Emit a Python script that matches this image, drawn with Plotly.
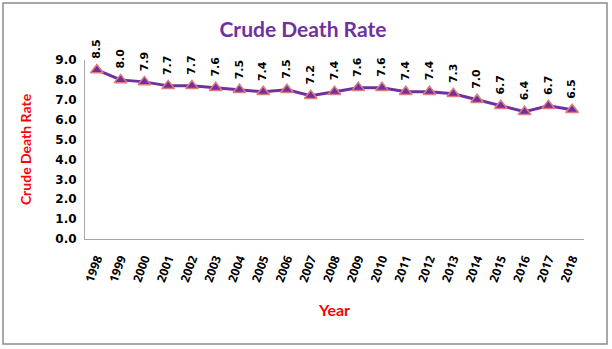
import plotly.graph_objects as go

years = [str(y) for y in range(1998, 2019)]
rates = [8.5, 8.0, 7.9, 7.7, 7.7, 7.6, 7.5, 7.4, 7.5, 7.2, 7.4, 7.6, 7.6, 7.4, 7.4, 7.3, 7.0, 6.7, 6.4, 6.7, 6.5]
y_ticks = [i * 1.0 for i in range(10)]

fig = go.Figure()
fig.add_trace(go.Scatter(
    x=years, y=rates, mode="lines+markers",
    line=dict(color="#7030A0", width=3),
    marker=dict(symbol="triangle-up", size=11, color="#7030A0",
                line=dict(color="#E07B7B", width=1.5)),
    cliponaxis=False, showlegend=False,
))

annotations = []
for i, v in enumerate(rates):
    annotations.append(dict(
        x=i, y=v, xref="x", yref="y", text=f"<b>{v:.1f}</b>",
        showarrow=False, textangle=-90, yanchor="bottom", yshift=9,
        font=dict(family="Verdana, DejaVu Sans", size=11, color="black"),
    ))

fig.update_layout(
    width=612, height=349,
    margin=dict(l=85, r=28, t=60, b=110),
    paper_bgcolor="white", plot_bgcolor="white",
    title=dict(text="<b>Crude Death Rate</b>", x=0.495, xanchor="center", y=0.915, yanchor="middle",
               font=dict(family="Lato, Open Sans", size=21, color="#7030A0")),
    xaxis=dict(
        type="category", categoryorder="array", categoryarray=years,
        range=[-0.5, len(years) - 0.5], tickangle=-70, showgrid=False, showline=True,
        linecolor="#A6A6A6", linewidth=1, ticks="", ticklabelstandoff=7,
        tickvals=years, ticktext=[f"<b>{y}</b>" for y in years],
        tickfont=dict(family="Open Sans, Lato", size=12, color="black"),
        title=dict(text="<b>Year</b>", font=dict(family="Lato, Open Sans", size=16, color="red"), standoff=21),
    ),
    yaxis=dict(
        range=[0, 9], tickvals=y_ticks, ticktext=[f"<b>{t:.1f}</b>" for t in y_ticks],
        showgrid=False, showline=True, linecolor="#A6A6A6", linewidth=1, ticks="",
        zeroline=False, ticklabelstandoff=5,
        tickfont=dict(family="Verdana, DejaVu Sans", size=12, color="black"),
        title=dict(text="<b>Crude Death Rate</b>", font=dict(family="Lato, Open Sans", size=14, color="red"), standoff=20),
    ),
    annotations=annotations,
    shapes=[dict(type="rect", xref="paper", yref="paper",
                 x0=(3 - 85) / 499, x1=(607 - 85) / 499,
                 y0=-(344 - 239) / 179, y1=1 + (60 - 3) / 179,
                 line=dict(color="#8C8C8C", width=1.5), fillcolor="rgba(0,0,0,0)", layer="below")],
)

fig.write_html("out.html")
